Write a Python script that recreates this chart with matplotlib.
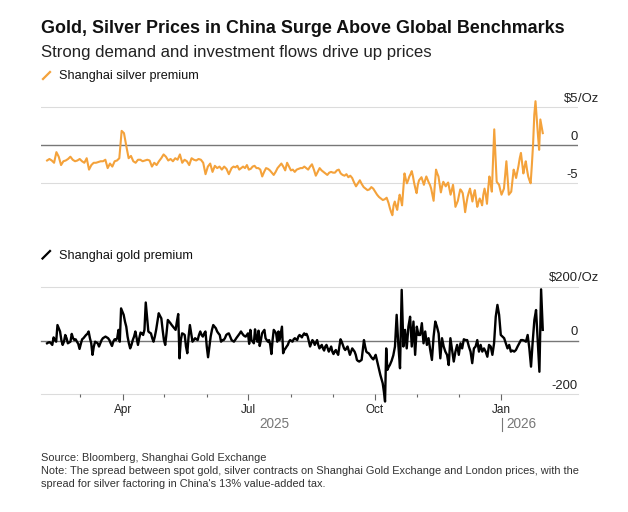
import matplotlib
matplotlib.use("Agg")
import matplotlib.pyplot as plt
import matplotlib.dates as mdates
from matplotlib.lines import Line2D
from matplotlib.ticker import FixedLocator
import pandas as pd

plt.rcParams['font.family'] = ['Liberation Sans', 'DejaVu Sans']

# ---------------- data (premium in $/oz) ----------------
segment_spans = [("2025-02-05", "2025-06-17"),
                 ("2025-06-19", "2025-10-11"),
                 ("2025-10-12", "2026-01-31")]

silver_feb_jun = [-2.0, -1.8, -2.0, -2.3, -0.9, -1.5, -2.6, -2.1, -2.0, -1.8, -1.5, -1.9, -2.1, -2.0,
                  -1.8, -2.1, -2.3, -1.7, -3.2, -2.6, -2.3, -2.3, -2.2, -2.1, -2.1, -1.9, -3.0, -2.4,
                  -2.8, -2.1, -2.0, -1.7, 1.9, 1.6, -0.1, -1.7, -1.4, -2.1, -2.3, -1.9, -1.9, -2.1,
                  -2.0, -1.9, -2.0, -2.8, -2.3, -2.6, -2.1, -1.7, -1.2, -1.5, -2.0, -1.8, -2.1, -1.7,
                  -1.9, -1.2, -2.3, -1.9, -2.1, -2.6, -1.7, -1.9, -2.0, -1.8, -1.9, -2.3, -3.8, -2.8,
                  -2.4, -3.5, -2.7, -3.0, -2.8, -3.2, -2.8, -3.1, -3.8]
silver_jun_oct = [-3.0, -2.8, -2.9, -2.7, -3.2, -3.0, -2.8, -3.0, -2.6, -3.2, -3.1, -2.8, -2.7, -3.0,
                  -3.0, -3.2, -4.1, -3.5, -3.0, -3.1, -3.3, -3.6, -3.9, -3.5, -3.0, -2.7, -2.4, -2.8,
                  -3.3, -2.3, -2.8, -3.3, -3.2, -3.5, -3.2, -3.1, -3.0, -3.0, -2.8, -3.0, -3.2, -2.8,
                  -2.5, -3.2, -4.0, -3.5, -3.0, -3.3, -3.5, -3.7, -3.9, -3.6, -3.5, -3.6, -3.6, -3.3,
                  -3.2, -3.7, -3.9, -4.0, -3.8, -4.2, -4.0, -4.3, -4.9, -5.4, -5.0, -4.6, -5.1, -5.5,
                  -5.7, -5.9, -5.8, -5.5, -5.7, -6.1, -6.5, -6.8, -7.0, -7.2, -7.1, -6.9, -7.6]
silver_oct_jan = [-8.3, -8.8, -9.2, -7.9, -7.4, -8.0, -8.5, -7.4, -6.5, -7.1, -7.9, -5.7, -3.7, -4.4,
                  -5.0, -4.6, -4.1, -3.8, -3.4, -4.1, -5.0, -5.7, -6.3, -5.2, -4.6, -4.4, -4.2, -4.7,
                  -5.2, -4.6, -4.1, -4.5, -4.9, -5.2, -5.7, -6.5, -7.3, -5.2, -3.2, -3.7, -4.1, -5.2,
                  -6.2, -5.4, -4.8, -5.1, -5.4, -5.1, -4.9, -5.7, -6.5, -5.9, -5.2, -6.5, -8.1, -7.7,
                  -7.3, -6.5, -5.8, -6.0, -6.3, -7.4, -8.8, -7.7, -6.8, -6.2, -5.7, -6.5, -7.4, -6.5,
                  -5.9, -7.0, -8.1, -7.5, -7.0, -7.4, -7.9, -6.5, -5.7, -6.5, -7.7, -5.7, -4.1, -5.0,
                  -6.1, -2.1, 2.1, -1.2, -4.8, -5.0, -5.2, -5.9, -6.5, -6.1, -5.7, -3.9, -2.1, -4.3,
                  -6.5, -6.3, -6.1, -4.6, -3.2, -3.7, -4.3, -3.5, -2.7, -1.7, -1.0, -2.3, -3.7, -2.8,
                  -2.1, -3.2, -4.1, -4.6, -5.0, -2.6, 0.1, 4.0, 5.8, 3.5, 1.4, -0.6, 3.4, 2.5, 1.6]

gold_feb_jun = [-10, -7, -6, -10, -16, 12, 2, -4, 58, 46, 34, 2, -16, -4, 21, 9, -10, -7, -4, 25, 9, 2,
                5, -4, -12, -31, -12, 5, 9, 15, 21, 25, 34, 9, -10, -53, -22, -4, -7, -10, -22, -10, 2,
                9, 12, 15, 12, 9, 2, -10, -20, -4, 5, 2, 9, 40, -4, 120, 108, 96, 71, 52, 15, -10, -29,
                -16, 2, 15, 34, 9, -16, 9, 30, 27, 21, 40, 142, 89, 34, 30, 27, 9, -4, 15, 40, 71, 102,
                92, 83, 40, 2, -16, 27, 77, 71, 65, 58, 52, 46, 40, 71, 99, -66, 2, 27, 25, 21, -22, -47,
                15, 58, 27, -4, 2, 9, 5, 2, 21, 34, 21, 15, 27, 34, -22, -62, -22, 15, 40, 58, 52, 46,
                34, 27, 21, -4, 2, 2, 9, 21, 25, 27]
gold_jun_oct = [2, -1, -4, 2, 9, 15, 21, 27, 34, 27, 21, 17, 15, 21, 27, -12, 40, 2, -4, -10, 42, 9, -4,
                37, -20, 2, 27, 34, 40, 9, 2, -4, 2, -16, -50, 2, 40, 34, 27, -4, 34, 2, 27, 52, -47,
                -35, -29, -22, -16, -4, 2, -1, -4, 5, 9, 5, 2, 15, 21, 17, 12, 21, 27, 21, 25, 15, -4,
                -22, -10, 2, -4, -16, -7, 2, -16, -29, -22, -16, -29, -37, -22, -16, -29, -41, -32, -22,
                -41, -50, -41, -35, -45, -53, -22, 5, -4, -16, -29, -35, -29, -22, -37, -53, -41, -29,
                -35, -41, -53, -72, -76, -78, -75, -72, -35, 2, -22, -41, -45, -47, -53, -60, -66, -70,
                -62, -53, -72, -91, -109, -128, -144, -159, -190, -227, -29, -109, -99]
gold_oct_jan = [-90, -75, -55, -22, 96, -16, -103, 189, -22, 40, -29, 52, 89, -22, 71, -53,
                52, 21, 21, 65, -10, 34, -16, 9, -35, -72, 15, 71, 52, 27, -66, 9, -22, -41, -53, -91, 9,
                -35, -78, -41, -16, -53, -10, -29, 5, 2, 2, -22, -41, -84, -29, -22, 2, -41, -16, -41,
                -29, -41, -60, -16, -22, -53, -10, 89, 133, 96, 21, 15, 9, -10, -29, -16, -41, -37, -41,
                -35, -22, -10, 2, 2, 0, -4, 21, -29, -97, -4, 77, 114, 2, -116, 191, 40]

silver_ticks = [5, 0, -5]
gold_ticks = [200, 0, -200]
month_labels = ["Apr", "Jul", "Oct", "Jan"]


def build(segs):
    idx = None
    vals = []
    for (s, e), v in zip(segment_spans, segs):
        d = pd.date_range(s, e, periods=len(v))
        idx = d if idx is None else idx.append(d)
        vals.extend(v)
    return pd.Series(vals, index=idx)


silver = build([silver_feb_jun, silver_jun_oct, silver_oct_jan])
gold = build([gold_feb_jun, gold_jun_oct, gold_oct_jan])

# ---------------- figure ----------------
W, H = 628, 512
fig = plt.figure(figsize=(W / 100, H / 100), dpi=100)
fig.patch.set_facecolor("white")


def fx(px):
    return px / W


def fy(py):
    return 1 - py / H


xmin = pd.Timestamp("2025-01-31 14:00")
xmax = pd.Timestamp("2026-02-25 14:00")

ax1 = fig.add_axes([fx(41), fy(221.3), fx(578) - fx(41), fy(95.9) - fy(221.3)])
ax2 = fig.add_axes([fx(41), fy(394.3), fx(578) - fx(41), fy(282.9) - fy(394.3)])

GRID = "#dcdcdc"
ZERO = "#777777"
ORANGE = "#F4A23B"

for ax in (ax1, ax2):
    for s in ax.spines.values():
        s.set_visible(False)
    ax.set_xlim(xmin, xmax)
    ax.set_yticks([])
    ax.patch.set_alpha(0)

ax1.set_ylim(-10, 6.5)
ax2.set_ylim(-200, 215)

for v in silver_ticks:
    ax1.axhline(v, color=ZERO if v == 0 else GRID, lw=1.0 if v == 0 else 0.8, zorder=1)
for v in gold_ticks:
    ax2.axhline(v, color=ZERO if v == 0 else GRID, lw=1.0 if v == 0 else 0.8, zorder=1, clip_on=False)

ax1.plot(silver.index, silver.values, color=ORANGE, lw=1.5, solid_joinstyle="round", zorder=3)
ax2.plot(gold.index, gold.values, color="black", lw=1.7, solid_joinstyle="round", zorder=3, clip_on=False)


# y labels on the right, above the grid lines
def ylabels(ax, ticks, unit):
    for i, v in enumerate(ticks):
        lab = f"{v:g}" if i != 0 else f"${v:g}"
        ax.annotate(lab, xy=(1.0, v), xycoords=("axes fraction", "data"),
                    xytext=(0, 4), textcoords="offset points", ha="right", va="baseline",
                    fontsize=9.4, color="#222222")
        if i == 0:
            ax.annotate(unit, xy=(1.0, v), xycoords=("axes fraction", "data"),
                        xytext=(0, 4), textcoords="offset points", ha="left", va="baseline",
                        fontsize=9.4, color="#222222")


ylabels(ax1, silver_ticks, "/Oz")
ylabels(ax2, gold_ticks, "/Oz")

# x axis
ax1.set_xticks([])
month_starts = pd.date_range("2025-03-01", "2026-01-01", freq="MS")
major = [d for d in month_starts if d.month in (1, 4, 7, 10)]
minor = [d for d in month_starts if d.month not in (1, 4, 7, 10)]
ax2.xaxis.set_major_locator(FixedLocator(mdates.date2num(major)))
ax2.xaxis.set_minor_locator(FixedLocator(mdates.date2num(minor)))
ax2.set_xticklabels(month_labels)
ax2.tick_params(axis="x", which="major", length=4.3, width=0.8, color="#666666",
                labelsize=8.5, labelcolor="#222222", pad=2.5)
ax2.tick_params(axis="x", which="minor", length=2.4, width=0.8, color="#666666")

# year labels
fig.text(fx(274.4), fy(427.7), "2025", ha="center", va="baseline", fontsize=9.8, color="#777777")
fig.text(fx(506.5), fy(427.7), "2026", ha="left", va="baseline", fontsize=9.8, color="#777777")
fig.add_artist(Line2D([fx(502.3), fx(502.3)], [fy(418), fy(430.7)], color="#777777", lw=0.8))

# titles
fig.text(fx(41), fy(32.7), "Gold, Silver Prices in China Surge Above Global Benchmarks",
         ha="left", va="baseline", fontsize=12.9, fontweight="bold", color="#111111")
fig.text(fx(41), fy(56.7), "Strong demand and investment flows drive up prices",
         ha="left", va="baseline", fontsize=12.1, color="#222222")

# legends
fig.add_artist(Line2D([fx(43), fx(50)], [fy(79), fy(72)], color=ORANGE, lw=1.6))
fig.text(fx(59), fy(78.5), "Shanghai silver premium", ha="left", va="baseline",
         fontsize=9.1, color="#111111")
fig.add_artist(Line2D([fx(42.5), fx(50)], [fy(258.5), fy(251)], color="black", lw=1.6))
fig.text(fx(59), fy(259.3), "Shanghai gold premium", ha="left", va="baseline",
         fontsize=9.1, color="#111111")

# footnotes
fig.text(fx(41), fy(460.7), "Source: Bloomberg, Shanghai Gold Exchange",
         ha="left", va="baseline", fontsize=7.95, color="#333333")
fig.text(fx(41), fy(474), "Note: The spread between spot gold, silver contracts on Shanghai Gold Exchange "
         "and London prices, with the", ha="left", va="baseline", fontsize=7.9, color="#333333")
fig.text(fx(41), fy(486.7), "spread for silver factoring in China's 13% value-added tax.",
         ha="left", va="baseline", fontsize=7.9, color="#333333")

fig.savefig("out.png", dpi=100, facecolor="white")
